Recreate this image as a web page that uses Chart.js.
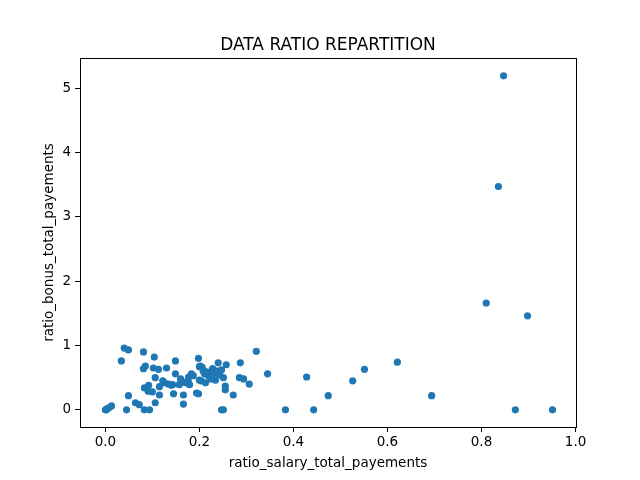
<!DOCTYPE html>
<html><head><meta charset="utf-8">
<script src="https://cdn.jsdelivr.net/npm/chart.js@4"></script>
<style>html,body{margin:0;padding:0;background:#fff}#wrap{width:640px;height:480px}</style>
</head><body><div id="wrap"><canvas id="c" width="640" height="480"></canvas></div>
<script>
const titleText = "DATA RATIO REPARTITION";
const xLabel = "ratio_salary_total_payements";
const yLabel = "ratio_bonus_total_payements";
const xTicks = [0.0, 0.2, 0.4, 0.6, 0.8, 1.0];
const yTicks = [0, 1, 2, 3, 4, 5];
const salaryRatio = [
 0.0,0.002,0.004,0.007,0.013,0.045,0.034,0.040,0.049,0.049,0.064,0.072,
 0.081,0.081,0.085,0.083,0.091,0.100,0.083,0.094,0.104,0.102,0.113,0.106,
 0.115,0.115,0.106,0.126,0.130,0.134,0.143,0.145,0.149,0.149,0.157,0.166,
 0.166,0.166,0.177,0.183,0.179,0.187,0.194,0.198,0.200,0.200,0.202,0.211,
 0.215,0.219,0.226,0.230,0.234,0.240,0.236,0.243,0.247,0.251,0.255,0.255,
 0.257,0.247,0.251,0.272,0.285,0.287,0.294,0.306,0.198,0.204,0.208,0.221,
 0.224,0.228,0.213,0.206,0.218,0.321,0.345,0.383,0.428,0.443,0.474,0.526,
 0.551,0.621,0.694,0.810,0.836,0.847,0.872,0.898,0.951,0.092,0.122,0.160,
 0.176,0.238,0.172,0.140
];
const bonusRatio = [
 0.0,0.0,0.02,0.03,0.06,0.0,0.76,0.96,0.93,0.22,0.11,0.08,
 0.90,0.64,0.68,0.34,0.29,0.28,0.0,0.0,0.82,0.65,0.63,0.50,
 0.36,0.23,0.11,0.42,0.65,0.40,0.39,0.25,0.76,0.56,0.39,0.43,
 0.23,0.09,0.51,0.56,0.39,0.53,0.26,0.80,0.67,0.46,0.68,0.56,
 0.59,0.53,0.50,0.62,0.46,0.73,0.57,0.54,0.62,0.50,0.37,0.31,
 0.70,0.0,0.0,0.23,0.50,0.73,0.48,0.40,0.25,0.45,0.60,0.55,
 0.48,0.64,0.42,0.66,0.58,0.91,0.56,0.0,0.51,0.0,0.22,0.45,
 0.63,0.74,0.22,1.66,3.47,5.19,0.0,1.46,0.0,0.38,0.45,0.48,
 0.45,0.60,0.42,0.38
];
const points = salaryRatio.map((x, i) => ({x: x, y: bonusRatio[i]}));
const font = "'DejaVu Sans', sans-serif";

const framePlugin = {
  id: 'frame',
  afterDraw(chart) {
    const {ctx, chartArea: a} = chart;
    ctx.save();
    ctx.strokeStyle = '#000';
    ctx.lineWidth = 1;
    ctx.strokeRect(Math.round(a.left) + 0.5, Math.round(a.top) + 0.5,
                   Math.round(a.right - a.left), Math.round(a.bottom - a.top));
    ctx.fillStyle = '#000';
    ctx.font = "17px " + font;
    ctx.textAlign = 'center';
    ctx.textBaseline = 'alphabetic';
    ctx.fillText(titleText, (a.left + a.right) / 2, 50);
    ctx.font = "13.5px " + font;
    ctx.textBaseline = 'middle';
    ctx.fillText(xLabel, (a.left + a.right) / 2, 463);
    ctx.translate(49, (a.top + a.bottom) / 2);
    ctx.rotate(-Math.PI / 2);
    ctx.fillText(yLabel, 0, 0);
    ctx.restore();
  }
};

new Chart(document.getElementById('c'), {
  type: 'scatter',
  data: { datasets: [{ data: points, backgroundColor: '#1f77b4', borderColor: '#1f77b4',
    pointRadius: 3.6, pointHoverRadius: 3.6, borderWidth: 0 }] },
  options: {
    responsive: false, animation: false,
    layout: { padding: { left: 0, right: 64, top: 58, bottom: 0 } },
    plugins: { legend: { display: false }, tooltip: { enabled: false }, title: { display: false } },
    scales: {
      x: {
        type: 'linear', min: -0.054, max: 1.001,
        afterBuildTicks: s => { s.ticks = xTicks.map(v => ({value: v})); },
        afterFit: s => { s.height = 53; },
        grid: { drawOnChartArea: false, tickLength: 5, tickColor: '#000', tickWidth: 1 },
        border: { display: false },
        ticks: { color: '#000', font: { family: font, size: 13.5 }, padding: 2, maxRotation: 0,
          callback: v => v.toFixed(1) },
        title: { display: false }
      },
      y: {
        type: 'linear', min: -0.267, max: 5.467,
        afterBuildTicks: s => { s.ticks = yTicks.map(v => ({value: v})); },
        afterFit: s => { s.width = 80; },
        grid: { drawOnChartArea: false, tickLength: 5, tickColor: '#000', tickWidth: 1 },
        border: { display: false },
        ticks: { color: '#000', font: { family: font, size: 13.5 }, padding: 4,
          callback: v => String(v) },
        title: { display: false }
      }
    }
  },
  plugins: [framePlugin]
});
</script></body></html>
